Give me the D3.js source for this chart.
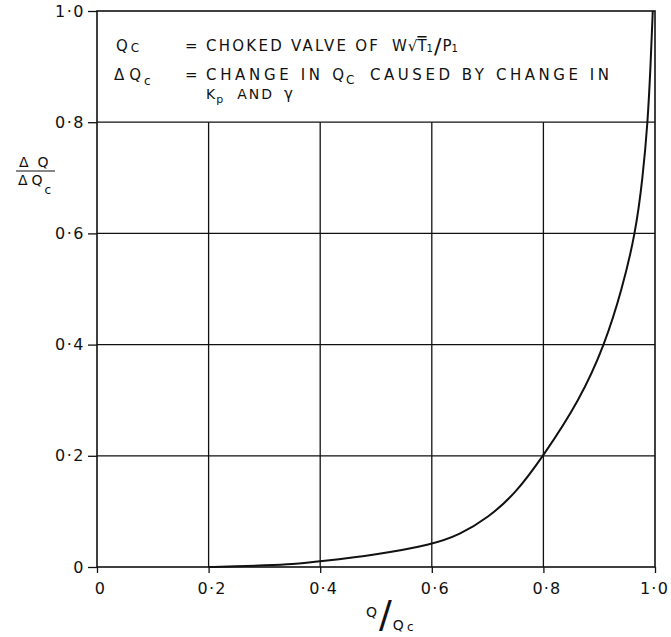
<!DOCTYPE html>
<html><head><meta charset="utf-8">
<script src="https://cdn.jsdelivr.net/npm/d3@7"></script>
<style>body{margin:0;background:#fff}svg{display:block}text{font-family:"DejaVu Sans",sans-serif;fill:#111}</style>
</head><body>
<script>
const xValues = [0.2, 0.25, 0.3, 0.35, 0.4, 0.5, 0.6, 0.65, 0.7, 0.75, 0.8, 0.865, 0.91, 0.941, 0.965, 0.978, 0.987, 0.992, 0.996];
const yValues = [0, 0.001, 0.003, 0.005, 0.01, 0.022, 0.04, 0.058, 0.088, 0.132, 0.2, 0.3, 0.4, 0.5, 0.6, 0.7, 0.8, 0.9, 1.0];
const xTicks = [0, 0.2, 0.4, 0.6, 0.8, 1.0];
const yTicks = [0, 0.2, 0.4, 0.6, 0.8, 1.0];
const xTickLabels = ["0", "0·2", "0·4", "0·6", "0·8", "1·0"];
const yTickLabels = ["0", "0·2", "0·4", "0·6", "0·8", "1·0"];

const W = 671, H = 637;
const svg = d3.select("body").append("svg").attr("width", W).attr("height", H);
const x = d3.scaleLinear().domain([0, 1]).range([97, 655]);
const y = d3.scaleLinear().domain([0, 1]).range([567, 11]);
const ink = "#111";

const g = svg.append("g");
g.selectAll(".hg").data(yTicks.filter(d => d > 0 && d < 1)).enter().append("line")
  .attr("x1", x(0)).attr("x2", x(1)).attr("y1", d => y(d)).attr("y2", d => y(d))
  .attr("stroke", ink).attr("stroke-width", 1.3);
g.selectAll(".vg").data(xTicks.filter(d => d > 0 && d < 1)).enter().append("line")
  .attr("x1", d => x(d)).attr("x2", d => x(d)).attr("y1", y(0)).attr("y2", y(0.8))
  .attr("stroke", ink).attr("stroke-width", 1.3);
g.append("rect").attr("x", x(0)).attr("y", y(1)).attr("width", x(1) - x(0)).attr("height", y(0) - y(1))
  .attr("fill", "none").attr("stroke", ink).attr("stroke-width", 1.6);

const yAxis = d3.axisLeft(y).tickValues(yTicks).tickSize(9).tickFormat((d, i) => yTickLabels[i]).tickPadding(3);
const ya = svg.append("g").attr("transform", `translate(${x(0)},0)`).call(yAxis);
ya.select(".domain").remove();
ya.selectAll("line").attr("stroke", ink).attr("stroke-width", 1.3);
ya.selectAll("text").style("font-size", "16px").style("font-family", "DejaVu Sans").style("letter-spacing", "1.5px").attr("fill", ink);

const xAxis = d3.axisBottom(x).tickValues(xTicks).tickSize(6).tickFormat((d, i) => xTickLabels[i]).tickPadding(10);
const xa = svg.append("g").attr("transform", `translate(0,${y(0)})`).call(xAxis);
xa.select(".domain").remove();
xa.selectAll("line").attr("stroke", ink).attr("stroke-width", 1.3);
xa.selectAll("text").style("font-size", "16px").style("font-family", "DejaVu Sans").style("letter-spacing", "1.2px").attr("fill", ink)
  .attr("dx", (d, i) => i === xTicks.length - 1 ? -1 : 3);

const pts = xValues.map((v, i) => [v, yValues[i]]);
svg.append("path").datum(pts)
  .attr("d", d3.line().x(d => x(d[0])).y(d => y(d[1])).curve(d3.curveBasis))
  .attr("fill", "none").attr("stroke", ink).attr("stroke-width", 2);

// legend text
const lg = svg.append("g").style("font-size", "15px");
function seg(txt, xs, ys, len, size) {
  const t = lg.append("text").attr("x", xs).attr("y", ys).text(txt);
  if (len) t.attr("textLength", len).attr("lengthAdjust", "spacing");
  if (size) t.style("font-size", size + "px");
  return t;
}
const l1 = lg.append("text").attr("x", 116).attr("y", 51);
l1.append("tspan").text("Q");
l1.append("tspan").attr("dx", 3).attr("dy", 1).style("font-size", "12px").text("C");
seg("=", 185, 51);
seg("CHOKED  VALVE  OF", 206, 51, 172);
const f1 = lg.append("text").attr("x", 392).attr("y", 51);
f1.append("tspan").text("W");
f1.append("tspan").attr("dx", 1).text("√");
f1.append("tspan").style("text-decoration", "overline").text("T");
f1.append("tspan").attr("dy", 1).style("font-size", "10px").text("1");
f1.append("tspan").attr("dx", 1).attr("dy", 2).style("font-size", "22px").text("/");
f1.append("tspan").attr("dx", 1).attr("dy", -3).text("P");
f1.append("tspan").attr("dy", 1).style("font-size", "10px").text("1");

const l2 = lg.append("text").attr("x", 114).attr("y", 80);
l2.append("tspan").text("Δ");
l2.append("tspan").attr("dx", 5).text("Q");
l2.append("tspan").attr("dx", 3).attr("dy", 5).style("font-size", "12px").text("c");
seg("=", 185, 80);
seg("CHANGE  IN  Q", 206, 80, 138);
seg("C", 346, 84, null, 12);
seg("CAUSED  BY  CHANGE  IN", 370, 80, 239);
const l3 = lg.append("text").attr("x", 206).attr("y", 99).style("font-size", "14px");
l3.append("tspan").text("K");
l3.append("tspan").attr("dx", 1).attr("dy", 4).style("font-size", "11px").text("p");
l3.append("tspan").attr("dx", 14).attr("dy", -4).style("letter-spacing", "2px").text("AND");
l3.append("tspan").attr("dx", 10).style("font-size", "15px").text("γ");

// y label fraction
const yl = svg.append("g").style("font-size", "14px");
const yn = yl.append("text").attr("x", 19).attr("y", 167);
yn.append("tspan").text("Δ");
yn.append("tspan").attr("dx", 9).text("Q");
yl.append("line").attr("x1", 16).attr("x2", 55).attr("y1", 171).attr("y2", 171).attr("stroke", ink).attr("stroke-width", 1.2);
const yd = yl.append("text").attr("x", 18).attr("y", 185);
yd.append("tspan").text("Δ");
yd.append("tspan").attr("dx", 4).text("Q");
yd.append("tspan").attr("dx", 2).attr("dy", 9).style("font-size", "12px").text("c");

// x label
const xl = svg.append("g").style("font-size", "14px");
const xt = xl.append("text").attr("x", 366).attr("y", 617);
xt.append("tspan").text("Q");
xt.append("tspan").attr("dx", 2).attr("dy", 10).style("font-size", "38px").text("/");
xt.append("tspan").attr("dx", 1).attr("dy", 3).text("Q");
xt.append("tspan").attr("dx", 3).attr("dy", 1).style("font-size", "12px").text("c");
</script>
</body></html>
